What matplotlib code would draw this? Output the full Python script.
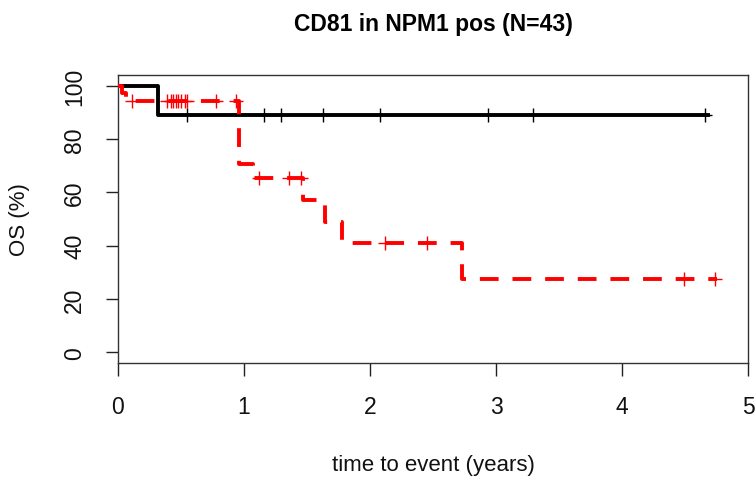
import numpy as np
import matplotlib
matplotlib.use("Agg")
import matplotlib.pyplot as plt

plt.rcParams['font.family'] = ['Liberation Sans', 'DejaVu Sans']
plt.rcParams['lines.scale_dashes'] = False

# black group: step times / survival (%), censored times
black_t = [0, 0.32, 4.68]
black_s = [100, 88.9, 88.9]
black_cens = [0.55, 1.16, 1.29, 1.63, 2.08, 2.94, 3.29, 4.66]

# red group
red_t = [0, 0.03, 0.06, 0.96, 1.07, 1.47, 1.64, 1.78, 2.73, 4.75]
red_s = [100, 97.1, 94.1, 70.6, 65.3, 57.1, 48.7, 41.1, 27.4, 27.4]
red_cens = [0.11, 0.39, 0.42, 0.44, 0.46, 0.48, 0.50, 0.53, 0.55, 0.78, 0.94,
            1.12, 1.36, 1.45, 2.12, 2.45, 4.49, 4.74]

xticks = [0, 1, 2, 3, 4, 5]
yticks = [0, 20, 40, 60, 80, 100]


def level_at(t, s, x):
    idx = np.searchsorted(t, x, side='right') - 1
    return np.array(s)[idx]


fig = plt.figure(figsize=(7.56, 4.81), dpi=100)
ax = fig.add_axes([118/756, 1-364/481, (748-118)/756, (364-76)/481])

ax.step(black_t, black_s, where='post', color='black', lw=2.8, zorder=2)
ax.plot(black_cens, level_at(black_t, black_s, black_cens), '+', color='black',
        ms=10, mew=1, zorder=2)

ax.step(red_t, red_s, where='post', color='red', lw=2.8, dashes=(13.5, 10),
        zorder=3)
ax.plot(red_cens, level_at(red_t, red_s, red_cens), '+', color='red',
        ms=10, mew=1, zorder=3)

ax.set_xlim(0, 5)
ax.set_ylim(-4, 104)
ax.set_xticks(xticks)
ax.set_yticks(yticks)
ax.tick_params(direction='out', length=9, width=1, color='#222',
               labelsize=16.5, labelcolor='#111')
ax.tick_params(axis='x', pad=14)
ax.tick_params(axis='y', pad=14)
for lab in ax.get_yticklabels():
    lab.set_rotation(90)
    lab.set_va('center')
for sp in ax.spines.values():
    sp.set_color('#333')
    sp.set_linewidth(1)

ax.set_xlabel('time to event (years)', fontsize=16, labelpad=26, color='#111')
ax.set_ylabel('OS (%)', fontsize=16, labelpad=24, color='#111')
fig.text(433/756, 1-24/481, 'CD81 in NPM1 pos (N=43)', fontsize=16.5,
         fontweight='bold', ha='center', va='center')

fig.savefig('out.png', dpi=100)
